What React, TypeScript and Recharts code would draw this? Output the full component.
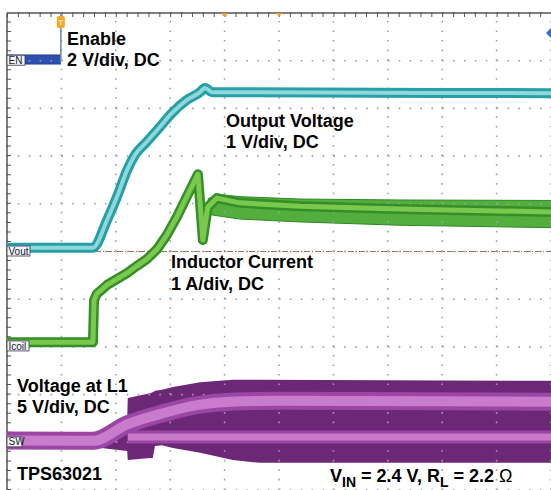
import React from "react";
import {
  ComposedChart,
  Line,
  Area,
  XAxis,
  YAxis,
  ReferenceLine,
  ReferenceDot,
} from "recharts";

const W = 551;
const H = 490;
const FONT = "'Liberation Sans', Arial, Helvetica, sans-serif";

// scope screen: 10 time divisions across, 10 level divisions up (0 = bottom)
const gridDivs = [0, 1, 2, 3, 4, 5, 6, 7, 8, 9, 10];

// Enable (blue) - low until the trigger, then leaves the top of the screen
const enTime = [0, 0.99];
const enLow = [8.93, 8.93];
const enHigh = [9.12, 9.12];
const enEdgeTime = [0.99, 0.99];
const enEdgeLevel = [9.0, 10];

// Output voltage (teal)
const voutTime = [0, 1.58, 1.84, 2.02, 2.21, 2.35, 2.57, 2.81, 3.03, 3.31, 3.55, 3.64, 3.77, 10];
const voutLevel = [5.08, 5.08, 5.66, 6.14, 6.71, 7.02, 7.3, 7.61, 7.9, 8.18, 8.34, 8.43, 8.34, 8.32];

// Inductor current (green)
const icoilTime = [0, 1.58, 1.6, 1.65, 1.84, 2.02, 2.21, 2.39, 2.57, 2.76, 2.94, 3.13, 3.31, 3.51, 3.6, 3.69, 3.86, 4.28, 5.39, 7.22, 10];
const icoilLevel = [3.1, 3.1, 3.98, 4.11, 4.3, 4.42, 4.55, 4.7, 4.84, 5.05, 5.35, 5.74, 6.16, 6.62, 5.24, 5.93, 6.12, 6.02, 5.95, 5.89, 5.83];
// ripple envelope once it regulates
const icoilRipTime = [3.69, 3.86, 4.28, 5.39, 7.22, 10];
const icoilRipLow = [5.78, 5.75, 5.68, 5.62, 5.55, 5.5];
const icoilRipHigh = [6.1, 6.2, 6.15, 6.1, 6.08, 6.07];

// Switch node voltage (purple) - persistence envelope plus the two dense bands
const swTime = [0, 1.58, 1.89, 2.21, 2.22, 2.63, 2.68, 2.72, 2.85, 3.05, 3.55, 4.15, 4.65, 10];
const swLow = [0.92, 0.9, 0.86, 0.82, 0.63, 0.67, 0.67, 0.92, 0.94, 0.88, 0.78, 0.63, 0.57, 0.57];
const swHigh = [1.15, 1.15, 1.32, 1.51, 1.93, 2.03, 2.05, 2.08, 2.1, 2.16, 2.26, 2.31, 2.31, 2.29];
const swHiTime = [0, 1.58, 2.22, 2.87, 3.49, 4.1, 5.02, 10];
const swHiLevel = [1.04, 1.03, 1.38, 1.61, 1.78, 1.85, 1.87, 1.85];
const swLoTime = [2.22, 10];
const swLoLevel = [1.11, 1.11];

// channel ground tags on the left edge
const tagNames = ["EN", "Vout", "Icoil", "SW"];
const tagLevels = [9.01, 5.01, 3.02, 1.01];
const tagWidths = [18, 23, 22, 15];

const pts = (ts: number[], vs: number[]) => ts.map((t, i) => ({ t, v: vs[i] }));
const band = (ts: number[], lo: number[], hi: number[]) =>
  ts.map((t, i) => ({ t, r: [lo[i], hi[i]] }));

const tagShape = (name: string, w: number) => (props: any) => {
  const { cx, cy } = props;
  return (
    <g>
      <rect x={cx} y={cy - 5} width={w} height={10} fill="#f3f5f9" stroke="#3b3b55" strokeWidth={0.8} />
      <text x={cx + 1.5} y={cy + 3.6} fontSize={10} fontFamily={FONT} fill="#1a1a2a">
        {name}
      </text>
    </g>
  );
};

const triggerShape = (props: any) => {
  const { cx, cy } = props;
  return (
    <g>
      <rect x={cx - 4} y={cy + 3} width={8} height={12} rx={2} fill="#f5a623" />
      <text x={cx} y={cy + 12} fontSize={8} textAnchor="middle" fontFamily={FONT} fill="#fff">
        T
      </text>
    </g>
  );
};

const smallSquare = (props: any) => (
  <rect x={props.cx - 2} y={props.cy} width={4} height={3} fill="#f0a030" />
);
const smallTri = (props: any) => (
  <path d={`M${props.cx - 3},${props.cy} L${props.cx + 3},${props.cy} L${props.cx},${props.cy + 4} Z`} fill="#f0a030" />
);
const diamond = (props: any) => (
  <path d={`M${props.cx},${props.cy - 5} L${props.cx + 5},${props.cy} L${props.cx},${props.cy + 5} L${props.cx - 5},${props.cy} Z`} fill="#2f6fd0" />
);

const noDot = { dot: false, activeDot: false, isAnimationActive: false } as const;

export default function App() {
  return (
    <div style={{ position: "absolute", left: 0, top: 0, width: W, height: H, background: "#fff", overflow: "hidden" }}>
      <ComposedChart width={W} height={H} margin={{ top: 13, right: 0, bottom: 0, left: 7 }}>
        <XAxis type="number" dataKey="t" domain={[0, 10]} ticks={gridDivs} hide allowDataOverflow />
        <YAxis type="number" domain={[0, 10]} ticks={gridDivs} hide allowDataOverflow />

        {/* dotted graticule */}
        {gridDivs.map((d) => (
          <ReferenceLine key={"h" + d} y={d} stroke="#a0a0a0" strokeWidth={1.6} strokeDasharray="1.6 9.28" />
        ))}
        {gridDivs.map((d) => (
          <ReferenceLine key={"v" + d} x={d} stroke="#a0a0a0" strokeWidth={1.6} strokeDasharray="1.6 7.94" />
        ))}

        <ReferenceLine y={5} stroke="#a8705e" strokeWidth={1} strokeDasharray="6 2 1 2" />
        <ReferenceLine y={10} stroke="#555" strokeWidth={1.5} />
        <ReferenceLine y={9.958} stroke="#555" strokeWidth={4} strokeDasharray="1 9.88" />
        <ReferenceLine x={0} stroke="#555" strokeWidth={1.5} />
        <ReferenceLine x={0.037} stroke="#555" strokeWidth={4} strokeDasharray="1 8.54" />

        {/* SW */}
        <Area data={band(swTime, swLow, swHigh)} dataKey="r" type="linear" stroke="none" fill="#6c2777" fillOpacity={1} {...noDot} />
        <Line data={pts(swHiTime, swHiLevel)} dataKey="v" type="monotone" stroke="#9b45a5" strokeWidth={18} strokeLinejoin="round" {...noDot} />
        <Line data={pts(swHiTime, swHiLevel)} dataKey="v" type="monotone" stroke="#c97ccb" strokeWidth={10} strokeLinejoin="round" {...noDot} />
        <Line data={pts(swLoTime, swLoLevel)} dataKey="v" type="linear" stroke="#9b45a5" strokeWidth={13} {...noDot} />
        <Line data={pts(swLoTime, swLoLevel)} dataKey="v" type="linear" stroke="#c77ac9" strokeWidth={7} {...noDot} />

        {/* Icoil */}
        <Area data={band(icoilRipTime, icoilRipLow, icoilRipHigh)} dataKey="r" type="linear" stroke="#2e8a26" strokeWidth={1} fill="#53ae3e" fillOpacity={1} {...noDot} />
        <Line data={pts(icoilTime, icoilLevel)} dataKey="v" type="linear" stroke="#348f28" strokeWidth={10} strokeLinejoin="round" {...noDot} />
        <Line data={pts(icoilTime, icoilLevel)} dataKey="v" type="linear" stroke="#7ac84e" strokeWidth={5} strokeLinejoin="round" {...noDot} />

        {/* Vout */}
        <Line data={pts(voutTime, voutLevel)} dataKey="v" type="monotone" stroke="#26a0a6" strokeWidth={10} strokeLinejoin="round" {...noDot} />
        <Line data={pts(voutTime, voutLevel)} dataKey="v" type="monotone" stroke="#8ed7da" strokeWidth={4} strokeLinejoin="round" {...noDot} />

        {/* EN */}
        <Area data={band(enTime, enLow, enHigh)} dataKey="r" type="linear" stroke="#23419a" strokeWidth={1} fill="#2e4fae" fillOpacity={1} {...noDot} />
        <Line data={pts(enEdgeTime, enEdgeLevel)} dataKey="v" type="linear" stroke="#6d84a6" strokeWidth={1.5} {...noDot} />

        {tagNames.map((n, i) => (
          <ReferenceDot key={n} x={0} y={tagLevels[i]} ifOverflow="visible" shape={tagShape(n, tagWidths[i])} />
        ))}
        <ReferenceDot x={0.99} y={10} ifOverflow="visible" shape={triggerShape} />
        <ReferenceDot x={4} y={10} ifOverflow="visible" shape={smallSquare} />
        <ReferenceDot x={5} y={10} ifOverflow="visible" shape={smallTri} />
        <ReferenceDot x={10} y={9.58} ifOverflow="visible" shape={diamond} />
      </ComposedChart>

      <svg width={W} height={H} style={{ position: "absolute", left: 0, top: 0, pointerEvents: "none" }}>
        <g fontFamily={FONT} fontWeight="bold" fontSize={18} fill="#000">
          <text x={67} y={45}>Enable</text>
          <text x={67} y={66}>2 V/div, DC</text>
          <text x={226} y={127}>Output Voltage</text>
          <text x={226} y={148}>1 V/div, DC</text>
          <text x={171} y={268}>Inductor Current</text>
          <text x={171} y={290}>1 A/div, DC</text>
          <text x={17} y={392}>Voltage at L1</text>
          <text x={17} y={413}>5 V/div, DC</text>
          <text x={17} y={480}>TPS63021</text>
          <text x={330} y={482}>
            V<tspan fontSize={14} dy={5}>IN</tspan>
            <tspan dy={-5}> = 2.4 V, R</tspan>
            <tspan fontSize={14} dy={5}>L</tspan>
            <tspan dy={-5}> = 2.2 </tspan>
            <tspan fontWeight="normal">Ω</tspan>
          </text>
        </g>
      </svg>
    </div>
  );
}
